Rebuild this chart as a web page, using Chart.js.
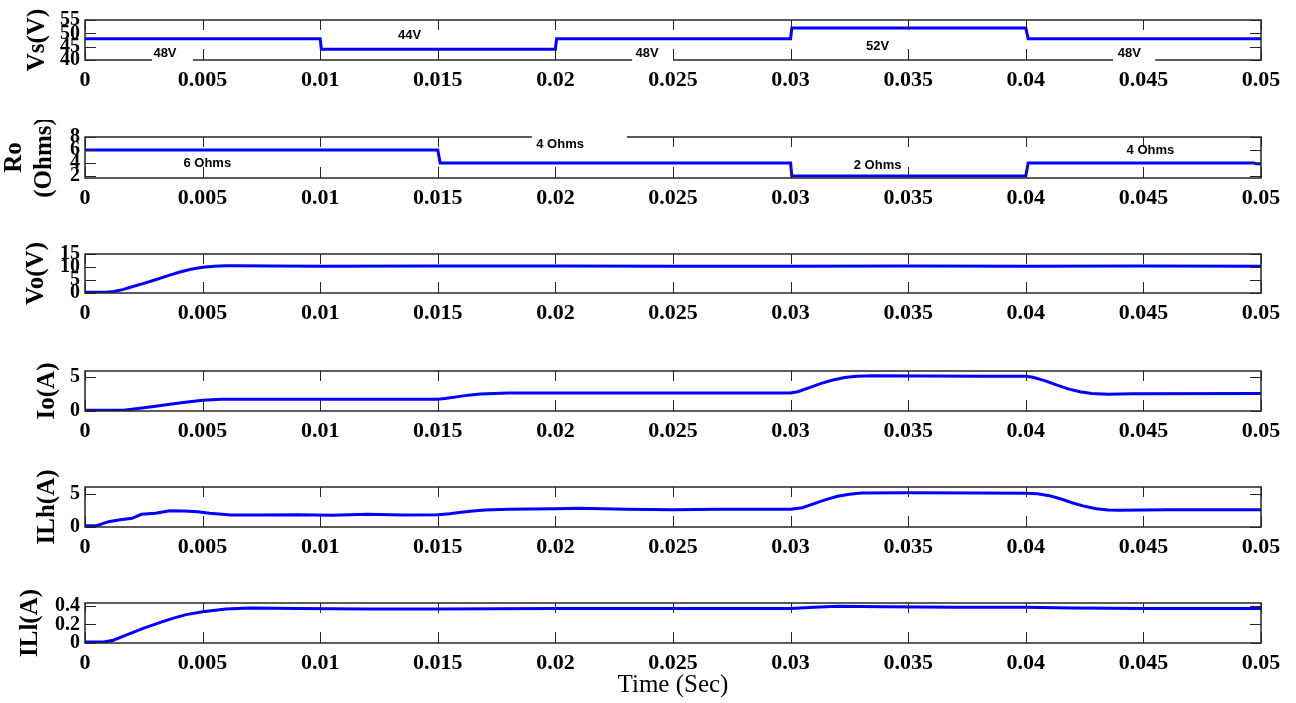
<!DOCTYPE html>
<html>
<head>
<meta charset="utf-8">
<script src="https://cdn.jsdelivr.net/npm/chart.js@4.4.0/dist/chart.umd.min.js"></script>
<style>
  body { margin: 0; background: #fff; width: 1296px; height: 703px; overflow: hidden; position: relative; }
  canvas { position: absolute; left: 0; }
</style>
</head>
<body>
<script>
// Time axis tick labels (seconds)
const timeTicks = [0, 0.005, 0.01, 0.015, 0.02, 0.025, 0.03, 0.035, 0.04, 0.045, 0.05];

// Vs(V) - supply voltage steps
const vsTime   = [0, 0.01, 0.01005, 0.02, 0.02005, 0.03, 0.03005, 0.04, 0.0401, 0.05];
const vsValues = [48, 48, 44, 44, 48, 48, 52, 52, 48, 48];
const vsTicks  = [40, 45, 50, 55];

// Ro - load resistance steps
const roTime   = [0, 0.015, 0.0151, 0.03, 0.03005, 0.04, 0.0401, 0.0497, 0.0498, 0.05];
const roValues = [6, 6, 4, 4, 2, 2, 4, 4, 3.9, 3.9];
const roTicks  = [2, 4, 6, 8];

// Vo(V) - output voltage
const voTime   = [0, 0.0009, 0.0012, 0.0016, 0.002, 0.0025, 0.003, 0.0035, 0.004, 0.0045, 0.005, 0.0055, 0.006, 0.0065, 0.008, 0.01, 0.015, 0.02, 0.025, 0.03, 0.035, 0.04, 0.045, 0.05];
const voValues = [0.3, 0.3, 0.6, 1.3, 2.4, 3.7, 5.1, 6.6, 8.0, 9.1, 9.9, 10.3, 10.5, 10.5, 10.4, 10.3, 10.4, 10.4, 10.3, 10.3, 10.4, 10.3, 10.4, 10.3];
const voTicks  = [0, 5, 10, 15];

// Io(A) - output current
const ioTime   = [0, 0.0016, 0.002, 0.003, 0.004, 0.005, 0.0058, 0.01, 0.015, 0.0153, 0.0158, 0.0163, 0.0168, 0.0174, 0.018, 0.025, 0.03, 0.0303, 0.0308, 0.0313, 0.0318, 0.0323, 0.0328, 0.0335, 0.038, 0.04, 0.0403, 0.0408, 0.0413, 0.0418, 0.0423, 0.0428, 0.0435, 0.0445, 0.05];
const ioValues = [0.1, 0.1, 0.25, 0.7, 1.15, 1.55, 1.7, 1.7, 1.7, 1.8, 2.05, 2.3, 2.45, 2.55, 2.6, 2.6, 2.6, 2.8, 3.4, 4.0, 4.5, 4.85, 5.05, 5.1, 5.05, 5.05, 4.9, 4.4, 3.8, 3.2, 2.8, 2.55, 2.42, 2.5, 2.55];
const ioTicks  = [0, 5];

// ILh(A) - high side inductor current
const ilhTime   = [0, 0.0005, 0.001, 0.0015, 0.002, 0.0024, 0.003, 0.0036, 0.0042, 0.0048, 0.0053, 0.0062, 0.0075, 0.009, 0.0105, 0.012, 0.0135, 0.015, 0.0155, 0.016, 0.0165, 0.017, 0.018, 0.02, 0.021, 0.023, 0.025, 0.027, 0.03, 0.0305, 0.031, 0.0315, 0.032, 0.0325, 0.033, 0.035, 0.038, 0.04, 0.0405, 0.041, 0.0415, 0.042, 0.0425, 0.043, 0.0435, 0.044, 0.046, 0.05];
const ilhValues = [0.2, 0.2, 0.8, 1.1, 1.3, 1.9, 2.05, 2.45, 2.4, 2.3, 2.05, 1.8, 1.8, 1.85, 1.75, 1.9, 1.8, 1.85, 2.0, 2.2, 2.4, 2.55, 2.65, 2.75, 2.8, 2.65, 2.6, 2.65, 2.65, 2.9, 3.5, 4.1, 4.6, 4.9, 5.1, 5.15, 5.1, 5.05, 5.0, 4.7, 4.2, 3.6, 3.1, 2.75, 2.55, 2.5, 2.6, 2.6];
const ilhTicks  = [0, 5];

// ILl(A) - low side inductor current
const illTime   = [0, 0.0008, 0.0012, 0.0018, 0.0025, 0.0033, 0.0038, 0.0043, 0.005, 0.006, 0.007, 0.009, 0.012, 0.015, 0.02, 0.025, 0.03, 0.031, 0.032, 0.034, 0.037, 0.04, 0.042, 0.045, 0.05];
const illValues = [0.01, 0.01, 0.03, 0.09, 0.16, 0.23, 0.27, 0.305, 0.335, 0.365, 0.375, 0.37, 0.365, 0.365, 0.37, 0.37, 0.37, 0.385, 0.395, 0.39, 0.385, 0.385, 0.375, 0.37, 0.37];
const illTicks  = [0, 0.2, 0.4];

// Text labels written on the first two plots
const vsNotes = [
    { text: '48V', t: 0.0034, v: 42.4, box: [0.00285, 0.00459], boxH: 9 },
    { text: '44V', t: 0.0138, v: 49.4 },
    { text: '48V', t: 0.0239, v: 42.4, box: [0.02326, 0.025], boxH: 9 },
    { text: '52V', t: 0.0337, v: 45.2 },
    { text: '48V', t: 0.0444, v: 42.4, box: [0.04371, 0.0455], boxH: 9 }
];
const roNotes = [
    { text: '6 Ohms', t: 0.0052, v: 3.95 },
    { text: '4 Ohms', t: 0.0202, v: 6.85, box: [0.019, 0.02304], boxH: 11 },
    { text: '2 Ohms', t: 0.0337, v: 3.6 },
    { text: '4 Ohms', t: 0.0453, v: 5.9 }
];

// Plot frame with inward tick marks, plus the text notes on top
function framePlugin(notes) {
    return {
        id: 'frame',
        afterDatasetsDraw(chart) {
            const ctx = chart.ctx;
            const a = chart.chartArea;
            const x = chart.scales.x;
            const y = chart.scales.y;
            ctx.save();
            ctx.strokeStyle = '#262626';
            ctx.lineWidth = 1;
            ctx.beginPath();
            x.ticks.forEach(t => {
                const px = Math.round(x.getPixelForValue(t.value)) + 0.5;
                ctx.moveTo(px, a.bottom); ctx.lineTo(px, a.bottom - 11);
                ctx.moveTo(px, a.top); ctx.lineTo(px, a.top + 10);
            });
            y.ticks.forEach(t => {
                const py = Math.round(y.getPixelForValue(t.value)) + 0.5;
                ctx.moveTo(a.left, py); ctx.lineTo(a.left + 11, py);
                ctx.moveTo(a.right, py); ctx.lineTo(a.right - 11, py);
            });
            ctx.stroke();
            ctx.lineWidth = 1.5;
            ctx.strokeRect(a.left, a.top, a.width, a.height);

            notes.forEach(n => {
                const cx = x.getPixelForValue(n.t);
                const cy = y.getPixelForValue(n.v);
                if (n.box) {
                    const l = x.getPixelForValue(n.box[0]);
                    const r = x.getPixelForValue(n.box[1]);
                    ctx.fillStyle = '#fff';
                    ctx.fillRect(l, cy - n.boxH, r - l, 2 * n.boxH);
                }
                ctx.fillStyle = '#000';
                ctx.font = 'bold 13px "Liberation Sans", Arial, sans-serif';
                ctx.textAlign = 'center';
                ctx.textBaseline = 'middle';
                ctx.fillText(n.text, cx, cy);
            });
            ctx.restore();
        }
    };
}

const serif = '"Liberation Serif", "Times New Roman", serif';

// One canvas per plot, stacked down the page
const panels = [
    { title: 'Vs(V)', time: vsTime, values: vsValues, ticks: vsTicks, min: 40, max: 55, top: 17, bottom: 60, titleX: 37.5, notes: vsNotes },
    { title: ['Ro', '(Ohms)'], time: roTime, values: roValues, ticks: roTicks, min: 1.7, max: 8, top: 134, bottom: 178, titleX: 15, notes: roNotes },
    { title: 'Vo(V)', time: voTime, values: voValues, ticks: voTicks, min: 0, max: 15, top: 251, bottom: 293, titleX: 37, notes: [] },
    { title: 'Io(A)', time: ioTime, values: ioValues, ticks: ioTicks, min: 0, max: 5.8, top: 368, bottom: 411, titleX: 48, notes: [] },
    { title: 'ILh(A)', time: ilhTime, values: ilhValues, ticks: ilhTicks, min: 0, max: 6, top: 484, bottom: 527, titleX: 48, notes: [] },
    { title: 'ILl(A)', time: illTime, values: illValues, ticks: illTicks, min: 0, max: 0.43, top: 600, bottom: 643, titleX: 31, notes: [], last: true }
];

const PLOT_LEFT = 85;
const PLOT_RIGHT = 1261;
const PAD_TOP = 14;

panels.forEach(p => {
    const xAxisH = p.last ? 703 - p.bottom : 36;
    const h = PAD_TOP + (p.bottom - p.top) + xAxisH;
    const padLeft = p.titleX - 15;

    const canvas = document.createElement('canvas');
    canvas.width = 1296;
    canvas.height = h;
    canvas.style.top = (p.top - PAD_TOP) + 'px';
    canvas.style.width = '1296px';
    canvas.style.height = h + 'px';
    document.body.appendChild(canvas);

    new Chart(canvas, {
        type: 'line',
        data: {
            datasets: [{
                data: p.time.map((t, i) => ({ x: t, y: p.values[i] })),
                borderColor: '#0000ff',
                borderWidth: 3,
                pointRadius: 0,
                tension: 0,
                fill: false
            }]
        },
        options: {
            responsive: false,
            devicePixelRatio: 1,
            animation: false,
            layout: {
                padding: { top: PAD_TOP, left: padLeft, right: 1296 - PLOT_RIGHT, bottom: 0 }
            },
            plugins: {
                legend: { display: false },
                tooltip: { enabled: false }
            },
            scales: {
                x: {
                    type: 'linear',
                    min: 0,
                    max: 0.05,
                    grid: { display: false, drawTicks: false },
                    border: { display: false },
                    afterBuildTicks: s => { s.ticks = timeTicks.map(v => ({ value: v })); },
                    afterFit: s => { s.height = xAxisH; },
                    ticks: {
                        autoSkip: false,
                        maxRotation: 0,
                        padding: 7,
                        color: '#000',
                        font: { family: serif, size: 22, weight: 'bold', lineHeight: 1.2 },
                        callback: v => String(+Number(v).toFixed(3))
                    },
                    title: {
                        display: !!p.last,
                        text: 'Time (Sec)',
                        color: '#000',
                        padding: { top: 0, bottom: 5 },
                        font: { family: serif, size: 25, lineHeight: 1 }
                    }
                },
                y: {
                    min: p.min,
                    max: p.max,
                    grid: { display: false, drawTicks: false },
                    border: { display: false },
                    afterBuildTicks: s => { s.ticks = p.ticks.map(v => ({ value: v })); },
                    afterFit: s => { s.width = PLOT_LEFT - padLeft; },
                    ticks: {
                        autoSkip: false,
                        padding: 5,
                        color: '#000',
                        font: { family: serif, size: 20, weight: 'bold', lineHeight: 1.2 },
                        callback: v => String(+Number(v).toFixed(2))
                    },
                    title: {
                        display: true,
                        text: p.title,
                        color: '#000',
                        padding: 0,
                        font: { family: serif, size: 25, weight: 'bold', lineHeight: 1.2 }
                    }
                }
            }
        },
        plugins: [framePlugin(p.notes)]
    });
});
</script>
</body>
</html>
